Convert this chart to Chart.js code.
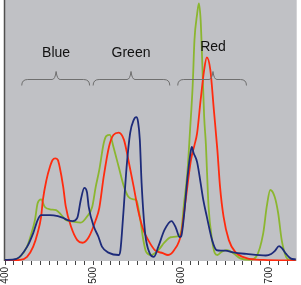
<!DOCTYPE html>
<html>
<head>
<meta charset="utf-8">
<script src="https://cdn.jsdelivr.net/npm/chart.js@4.4.1/dist/chart.umd.min.js"></script>
<style>
  html, body { margin: 0; padding: 0; background: #fff; }
  canvas { display: block; }
</style>
</head>
<body>
<canvas id="spectrum" width="301" height="285"></canvas>
<script>
// wavelength (nm) / relative intensity
const blueNm  = [400, 413, 425, 432, 437, 441, 451, 460, 466, 471, 477, 482, 486, 490, 493, 495, 501, 506, 510, 518, 529, 531, 534, 538, 542, 546, 549, 551, 553, 555, 559, 564, 569, 574, 581, 589, 594, 598, 600, 603, 607, 611, 612, 614, 618, 622, 625, 629, 635, 640, 645, 650, 659, 674, 696, 702, 706, 711, 714, 719, 724, 730];
const blueVal = [0.4, 0.8, 5.4, 10.7, 15.7, 17.6, 17.6, 17.2, 16.5, 15.7, 15.3, 16.5, 23.4, 28, 26.4, 20.7, 13, 9.3, 5.5, 3.1, 2.3, 4.2, 16.9, 36, 49, 54, 55.1, 53.3, 46.4, 29.9, 10.7, 3.1, 1.6, 5.5, 11.9, 15.3, 12.6, 9.2, 9.6, 17, 31.8, 42.5, 43.7, 41.4, 37.9, 29.8, 23.4, 17, 8, 4.2, 4, 4, 3.3, 2.7, 2.1, 2.7, 3.8, 5.7, 5, 2.7, 1, 0.6];

const redNm  = [400, 417, 425, 432, 437, 441, 443, 447, 451, 454, 457, 460, 462, 466, 469, 475, 482, 488, 495, 503, 507, 512, 518, 523, 529, 535, 540, 546, 551, 557, 563, 570, 579, 585, 592, 600, 605, 611, 615, 618, 622, 626, 629, 633, 637, 641, 644, 648, 654, 661, 674, 693, 730];
const redVal = [0.2, 0.4, 1.6, 5.5, 10.7, 17, 23.4, 31, 36.1, 38.7, 39.3, 38.7, 36.1, 28.5, 20.8, 13.1, 8, 7, 9.1, 15.7, 20.3, 32.3, 43.8, 48.3, 49.2, 46.4, 38.7, 28.5, 19.5, 11.9, 7.7, 4.2, 3, 2.3, 4.2, 10.6, 23.4, 38.7, 44.4, 49, 61.7, 73.2, 78, 73.2, 57.9, 42.5, 28.5, 17, 8, 3.6, 1.1, 0.4, 0.2];

const greenNm  = [400, 410, 417, 425, 430, 434, 437, 441, 445, 451, 458, 464, 469, 477, 486, 493, 499, 503, 507, 512, 515, 519, 523, 529, 535, 540, 546, 549, 553, 557, 560, 566, 574, 581, 588, 596, 600, 603, 607, 610, 613, 615, 618, 620, 622, 624, 626, 628, 629, 631, 635, 638, 641, 646, 652, 659, 667, 678, 685, 693, 697, 701, 706, 710, 714, 719, 723, 730];
const greenVal = [0.2, 0.4, 1.6, 5.5, 10.6, 15.7, 22.1, 23.6, 20.8, 19.8, 19.5, 17.6, 15.7, 15.1, 14.7, 17, 20.8, 28.5, 34.9, 45.1, 47.9, 48.3, 43.8, 36.1, 28.5, 24.6, 23.6, 23.4, 17, 8, 3.6, 2.3, 4.2, 7.1, 9.1, 9.4, 11.5, 21.5, 34.1, 50.2, 67.4, 84.7, 94.6, 98.7, 92.3, 74.5, 55.3, 44.4, 36.1, 20.8, 8, 3.1, 2.3, 3.6, 4.2, 3, 1, 0.4, 1.6, 10.6, 20.8, 27.2, 24.6, 18.3, 8, 1.6, 0.4, 0.2];

const xTickLabels = [400, 500, 600, 700];

// bands marked with braces above the curves
const bandNames = ['Blue', 'Green', 'Red'];
const bandFrom  = [419, 500, 596];
const bandTo    = [496, 587, 674];
const bandMid   = [458, 543, 636];

function toPoints(xs, ys) {
    return xs.map((x, i) => ({ x: x, y: ys[i] }));
}

const plotBackground = {
    id: 'plotBackground',
    beforeDraw(chart) {
        const { ctx, chartArea: a } = chart;
        ctx.save();
        ctx.fillStyle = '#c0c1c5';
        ctx.fillRect(a.left, a.top, a.right - a.left, a.bottom - a.top);
        ctx.strokeStyle = '#505050';
        ctx.lineWidth = 1.5;
        ctx.beginPath();
        ctx.moveTo(a.left - 0.5, a.top);
        ctx.lineTo(a.left - 0.5, a.bottom);
        ctx.stroke();
        ctx.restore();
    }
};

const braces = {
    id: 'braces',
    afterDatasetsDraw(chart) {
        const { ctx } = chart;
        const xs = chart.scales.x;
        const ys = chart.scales.y;
        const yLine = ys.getPixelForValue(69.7);
        ctx.save();
        ctx.strokeStyle = '#6f6f6f';
        ctx.lineWidth = 1;
        ctx.font = '14px "Liberation Sans", Arial, sans-serif';
        ctx.fillStyle = '#111';
        ctx.textAlign = 'center';
        ctx.textBaseline = 'middle';
        bandNames.forEach((name, i) => {
            const x0 = xs.getPixelForValue(bandFrom[i]);
            const x1 = xs.getPixelForValue(bandTo[i]);
            const xm = xs.getPixelForValue(bandMid[i]);
            const y = Math.round(yLine) + 0.5;
            ctx.beginPath();
            ctx.moveTo(x0, y + 6);
            ctx.quadraticCurveTo(x0, y, x0 + 6, y);
            ctx.lineTo(xm - 4, y);
            ctx.quadraticCurveTo(xm - 1, y, xm, y - 8);
            ctx.quadraticCurveTo(xm + 1, y, xm + 4, y);
            ctx.lineTo(x1 - 6, y);
            ctx.quadraticCurveTo(x1, y, x1, y + 6);
            ctx.stroke();
            const ty = name === 'Red' ? y - 32 : y - 26;
            ctx.fillText(name, xm + (name === 'Red' ? 0 : 0), ty);
        });
        ctx.restore();
    }
};

const lineStyle = { borderWidth: 1.8, pointRadius: 0, fill: false, cubicInterpolationMode: 'monotone' };

new Chart(document.getElementById('spectrum').getContext('2d'), {
    type: 'line',
    data: {
        datasets: [
            Object.assign({ label: 'Blue', data: toPoints(blueNm, blueVal), borderColor: '#1d2b7a' }, lineStyle),
            Object.assign({ label: 'Red', data: toPoints(redNm, redVal), borderColor: '#ff2b0f' }, lineStyle),
            Object.assign({ label: 'Green', data: toPoints(greenNm, greenVal), borderColor: '#8bb630' }, lineStyle)
        ]
    },
    options: {
        responsive: false,
        animation: false,
        layout: { padding: { left: 0, right: 0, top: 0, bottom: 0 } },
        plugins: { legend: { display: false }, tooltip: { enabled: false } },
        scales: {
            x: {
                type: 'linear',
                min: 400,
                max: 731,
                afterBuildTicks(scale) {
                    scale.ticks = scale.ticks.filter(t => t.value % 10 === 0);
                },
                afterFit(scale) { scale.height = 24; },
                grid: { drawOnChartArea: false, drawTicks: true, tickLength: 4, color: '#444' },
                border: { display: false },
                ticks: {
                    stepSize: 10,
                    autoSkip: false,
                    minRotation: 90,
                    maxRotation: 90,
                    padding: 2,
                    color: '#222',
                    font: { family: '"Liberation Sans", Arial, sans-serif', size: 10 },
                    callback: v => xTickLabels.includes(v) ? String(v) : ''
                }
            },
            y: {
                min: 0,
                max: 100,
                afterFit(scale) { scale.width = 5; },
                grid: { display: false },
                border: { display: false },
                ticks: { display: false }
            }
        }
    },
    plugins: [plotBackground, braces]
});
</script>
</body>
</html>
